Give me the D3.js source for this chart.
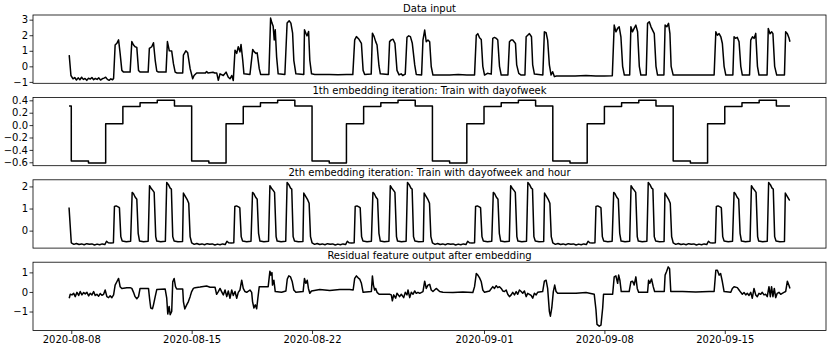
<!DOCTYPE html>
<html>
<head>
<meta charset="utf-8">
<script src="https://cdn.jsdelivr.net/npm/d3@7"></script>
<style>
  body { margin: 0; background: #fff; }
  svg text { font-family: "DejaVu Sans", sans-serif; fill: #000; }
</style>
</head>
<body>
<div id="chart"></div>
<script>
// time is counted in days from 2020-08-08 00:00
const seriesStart = -0.13, seriesEnd = 41.79;

const titles = [
  'Data input',
  '1th embedding iteration: Train with dayofweek',
  '2th embedding iteration: Train with dayofweek and hour',
  'Residual feature output after embedding'
];

const xTickLabels = ['2020-08-08', '2020-08-15', '2020-08-22', '2020-09-01', '2020-09-08', '2020-09-15'];

// panel 1: raw input, [day, value]
const inputPts = [
  [-0.12,0.72],[-0.02,-0.59],[0.10,-0.80],[0.2,-0.72],[0.3,-0.88],[0.4,-0.74],[0.5,-0.86],[0.6,-0.70],[0.7,-0.84],
  [0.8,-0.78],[0.9,-0.90],[1.0,-0.76],[1.1,-0.82],[1.2,-0.72],[1.3,-0.86],[1.4,-0.78],[1.5,-0.84],[1.6,-0.74],
  [1.7,-0.88],[1.8,-0.80],[1.9,-0.76],[2.0,-0.70],[2.1,-0.84],[2.2,-0.90],[2.3,-0.80],[2.4,-0.86],[2.46,-0.78],
  [2.55,1.37],[2.65,1.48],[2.75,1.70],[2.84,0.83],[2.94,-0.26],[3.04,-0.37],[3.42,-0.37],
  [3.52,1.59],[3.62,1.37],[3.71,1.26],[3.81,1.22],[3.91,-0.26],[4.0,-0.37],[4.47,-0.37],
  [4.54,1.15],[4.68,1.26],[4.78,1.52],[4.88,0.39],[4.97,-0.30],[5.07,-0.37],[5.51,-0.37],
  [5.59,1.59],[5.70,1.00],[5.84,0.98],[5.94,0.17],[6.04,-0.37],[6.15,-0.43],[6.48,-0.43],
  [6.52,0.72],[6.66,1.00],[6.77,0.87],[6.91,-0.15],[7.06,-0.80],[7.14,-0.59],[7.29,-0.43],[7.8,-0.43],[7.87,-0.33],
  [7.95,-0.43],[8.24,-0.38],[8.34,-0.43],[8.46,-0.43],[8.55,-0.90],[8.65,-0.48],[8.84,-0.59],[9.0,-0.37],[9.13,-0.70],
  [9.23,-0.80],[9.33,-0.59],[9.42,-0.91],
  [9.52,1.04],[9.62,0.83],[9.71,1.26],[9.81,0.93],[9.87,1.41],[9.97,0.39],[10.04,-0.48],[10.39,-0.52],
  [10.55,1.09],[10.64,0.93],[10.74,0.83],[10.81,0.87],[10.93,-0.15],[11.01,-0.52],[11.49,-0.52],
  [11.59,3.10],[11.67,2.78],[11.74,2.57],[11.80,1.70],[11.86,2.35],[11.94,0.61],[12.03,-0.48],[12.42,-0.52],
  [12.55,2.78],[12.67,2.93],[12.77,2.78],[12.87,2.13],[12.94,0.39],[13.06,-0.48],[13.52,-0.52],
  [13.56,2.35],[13.64,2.13],[13.71,1.96],[13.80,2.24],[13.87,0.39],[13.97,-0.48],[14.16,-0.52],[14.5,-0.53],
  [15.0,-0.52],[15.5,-0.54],[16.0,-0.52],[16.37,-0.53],
  [16.48,1.70],[16.58,1.91],[16.73,1.74],[16.87,1.48],[16.97,-0.26],[17.06,-0.52],[17.44,-0.50],
  [17.51,2.13],[17.61,1.91],[17.70,1.59],[17.78,1.37],[17.89,0.04],[17.97,-0.48],[18.43,-0.52],
  [18.51,1.59],[18.61,1.70],[18.71,1.74],[18.82,1.48],[18.94,-0.26],[19.06,-0.55],[19.18,-0.48],[19.27,-0.59],[19.42,-0.50],
  [19.52,1.87],[19.62,1.96],[19.72,1.91],[19.83,1.48],[19.97,0.09],[20.06,-0.52],[20.37,-0.55],
  [20.45,1.69],[20.55,2.33],[20.64,1.58],[20.74,1.69],[20.84,1.58],[20.93,-0.01],[21.03,-0.56],[21.5,-0.56],
  [22.0,-0.55],[22.5,-0.52],[23.0,-0.56],[23.45,-0.55],
  [23.55,2.0],[23.64,2.1],[23.74,1.84],[23.84,1.73],[23.93,0.0],[24.03,-0.56],[24.2,-0.45],[24.42,-0.5],
  [24.51,1.8],[24.61,1.86],[24.71,1.8],[24.80,1.69],[24.90,0.0],[25.0,-0.56],[25.39,-0.55],
  [25.48,1.58],[25.58,1.69],[25.67,1.69],[25.83,1.47],[25.90,0.09],[26.02,-0.45],[26.16,-0.56],[26.38,-0.55],
  [26.45,1.9],[26.54,2.0],[26.64,2.1],[26.76,1.9],[26.83,0.09],[26.93,-0.5],[27.42,-0.55],
  [27.51,2.22],[27.61,2.16],[27.70,1.69],[27.80,0.09],[27.90,-0.56],[27.99,-0.35],[28.09,-0.66],[28.21,-0.62],
  [28.7,-0.62],[29.3,-0.62],[29.93,-0.59],[30.5,-0.62],[31.0,-0.62],[31.46,-0.61],
  [31.57,2.65],[31.67,2.22],[31.77,2.44],[31.86,2.54],[31.96,1.9],[32.06,0.0],[32.16,-0.56],[32.47,-0.55],
  [32.54,2.54],[32.63,2.22],[32.73,2.44],[32.83,2.65],[32.93,2.22],[33.03,0.0],[33.12,-0.56],[33.43,-0.55],
  [33.51,2.76],[33.61,2.86],[33.71,2.54],[33.80,2.33],[33.90,2.1],[34.0,0.0],[34.09,-0.56],[34.46,-0.55],
  [34.53,2.65],[34.63,2.54],[34.73,2.76],[34.81,2.1],[34.88,0.0],[35.0,-0.56],[35.5,-0.56],[36.0,-0.55],
  [36.5,-0.56],[37.0,-0.55],[37.38,-0.56],
  [37.48,2.22],[37.57,2.0],[37.67,2.1],[37.77,1.9],[37.86,1.47],[37.96,0.0],[38.06,-0.56],[38.47,-0.55],
  [38.54,1.9],[38.63,1.8],[38.73,1.86],[38.83,1.58],[38.93,0.0],[39.02,-0.56],[39.44,-0.55],
  [39.51,1.69],[39.61,1.9],[39.71,1.8],[39.80,2.12],[39.90,0.0],[39.99,-0.56],[40.46,-0.55],
  [40.53,2.44],[40.63,2.1],[40.73,2.22],[40.80,2.1],[40.90,0.0],[41.02,-0.56],[41.47,-0.55],
  [41.54,2.22],[41.64,2.1],[41.74,1.8],[41.79,1.58]
];

// panel 2: one level per weekday, Saturday first
const dowLevels = [-0.58, -0.61, 0.02, 0.30, 0.36, 0.40, 0.31];

// panel 3: one week of the dayofweek+hour fit, Saturday 00:00 = day 0
const weekProfile = [
  [0.0,-0.55],[0.15,-0.62],[0.3,-0.58],[0.45,-0.63],[0.6,-0.60],[0.75,-0.64],[0.9,-0.59],[1.05,-0.62],[1.2,-0.60],
  [1.35,-0.65],[1.5,-0.61],[1.65,-0.64],[1.8,-0.60],[1.95,-0.63],[2.05,-0.48],[2.15,-0.55],[2.3,-0.56],[2.45,-0.55],
  [2.51,1.09],[2.61,1.12],[2.75,1.06],[2.80,1.03],[2.88,-0.27],[2.96,-0.47],[3.2,-0.50],[3.45,-0.48],
  [3.54,1.73],[3.62,1.67],[3.71,1.52],[3.81,1.42],[3.89,-0.12],[3.97,-0.47],[4.2,-0.50],[4.47,-0.48],
  [4.55,2.03],[4.64,1.92],[4.74,1.82],[4.82,1.73],[4.91,-0.27],[4.97,-0.47],[5.2,-0.50],[5.47,-0.48],
  [5.55,2.18],[5.65,2.08],[5.75,1.92],[5.82,1.88],[5.90,-0.27],[5.98,-0.47],[6.2,-0.50],[6.47,-0.49],
  [6.52,1.70],[6.63,1.55],[6.75,1.39],[6.83,1.24],[6.91,-0.27]
];
const embed2First = [-0.13, 1.05];
const embed2Last = [41.79, 1.40];

// panel 4: residual, [day, value]
const residualPts = [
  [-0.12,-0.32],[-0.06,-0.12],[0.04,-0.15],[0.14,-0.07],[0.23,-0.24],[0.33,-0.02],[0.43,-0.18],[0.52,0.02],[0.62,-0.15],
  [0.72,-0.03],[0.81,-0.10],[0.91,-0.02],[1.01,-0.20],[1.10,-0.07],[1.20,-0.15],[1.30,0.02],[1.39,-0.18],[1.49,-0.12],
  [1.59,-0.22],[1.68,-0.08],[1.78,-0.17],[1.88,-0.12],[1.97,0.10],[2.07,-0.24],[2.17,-0.29],[2.26,-0.20],[2.36,-0.29],
  [2.46,-0.15],[2.55,0.35],[2.65,0.52],[2.75,0.69],[2.84,0.27],[2.94,0.18],[3.23,0.22],[3.42,0.22],[3.52,0.18],
  [3.62,-0.02],[3.71,-0.24],[3.81,-0.35],[3.91,-0.24],[4.00,0.18],[4.49,0.18],[4.55,-0.32],[4.62,-0.82],[4.72,-0.86],
  [4.78,-0.66],[4.88,-0.24],[4.97,0.12],[5.46,0.15],[5.55,-0.32],[5.61,-1.13],[5.69,-0.74],[5.75,-1.16],[5.84,-0.99],
  [5.90,0.52],[5.98,0.69],[6.06,0.27],[6.13,0.15],[6.48,0.15],[6.52,-0.49],[6.60,-0.87],[6.71,-0.66],[6.81,-0.49],
  [6.91,-0.24],[7.00,0.02],[7.10,0.18],[7.20,0.22],[7.49,0.25],[7.87,0.30],[8.07,0.24],[8.36,0.24],[8.45,-0.12],
  [8.55,0.02],[8.65,0.18],[8.74,0.02],[8.84,-0.15],[8.94,0.10],[9.04,-0.24],[9.13,0.05],[9.23,-0.32],[9.33,0.10],
  [9.42,-0.18],[9.52,0.02],[9.62,-0.32],[9.71,-0.02],[9.81,0.10],[9.91,0.60],[10.00,0.18],[10.10,0.02],[10.20,-0.02],
  [10.39,0.10],[10.49,-0.02],[10.54,-0.49],[10.62,-0.82],[10.70,-0.66],[10.78,-0.86],[10.85,-0.32],[10.93,0.27],
  [11.45,0.27],[11.55,1.06],[11.61,0.86],[11.67,0.99],[11.70,0.35],[11.78,0.60],[11.86,0.02],[12.23,-0.02],[12.48,0.05],
  [12.56,0.66],[12.65,0.82],[12.75,0.77],[12.85,0.52],[12.94,0.10],[13.06,-0.02],[13.48,0.02],[13.56,0.69],[13.64,0.44],
  [13.72,0.60],[13.79,0.18],[13.87,-0.07],[13.97,0.05],[14.45,0.13],[15.03,0.08],[15.61,0.12],[16.19,0.13],[16.39,0.10],
  [16.48,0.69],[16.58,0.82],[16.68,0.72],[16.77,0.66],[16.87,0.44],[16.97,-0.02],[17.45,0.02],[17.51,0.82],[17.57,0.35],
  [17.64,0.10],[17.70,0.18],[17.78,-0.02],[17.90,-0.12],[18.13,-0.12],[18.51,-0.12],[18.61,-0.15],[18.67,-0.45],
  [18.75,-0.15],[18.86,-0.32],[18.94,-0.07],[19.09,-0.24],[19.19,-0.12],[19.33,-0.29],[19.42,-0.02],[19.52,-0.15],
  [19.58,0.10],[19.68,-0.29],[19.77,-0.02],[19.87,-0.12],[19.97,0.05],[20.06,-0.07],[20.16,-0.02],[20.26,-0.07],
  [20.45,0.02],[20.55,0.55],[20.64,0.18],[20.74,0.35],[20.84,0.39],[20.93,0.10],[21.03,0.02],[21.22,0.18],[21.42,0.02],
  [21.61,-0.02],[22.19,-0.03],[22.77,0.0],[23.35,-0.03],[23.45,0.27],[23.55,0.94],[23.64,0.86],[23.74,0.72],[23.84,0.52],
  [23.93,0.10],[24.03,-0.02],[24.32,0.05],[24.51,0.27],[24.61,0.18],[24.71,0.32],[24.80,0.22],[24.90,0.27],[25.00,0.18],
  [25.09,0.05],[25.19,0.02],[25.29,0.10],[25.38,-0.12],[25.48,-0.24],[25.58,-0.15],[25.67,-0.02],[25.77,-0.15],
  [25.87,0.02],[25.96,-0.12],[26.06,0.10],[26.16,0.02],[26.25,-0.07],[26.35,0.05],[26.45,-0.24],[26.54,-0.07],
  [26.64,-0.12],[26.74,-0.18],[26.83,-0.32],[26.93,-0.07],[27.03,-0.15],[27.12,-0.02],[27.41,0.02],[27.51,0.55],
  [27.61,0.60],[27.70,0.18],[27.80,-0.99],[27.86,-1.24],[27.94,-0.82],[28.03,0.02],[28.11,0.35],[28.19,0.02],
  [28.28,-0.07],[29.35,-0.07],[29.93,-0.03],[30.41,-0.12],[30.51,-0.91],[30.57,-1.66],[30.70,-1.75],[30.80,-1.70],
  [30.90,-0.82],[30.95,-0.12],[31.48,-0.12],[31.57,0.77],[31.67,0.82],[31.77,0.44],[31.83,0.86],[31.90,0.60],
  [31.98,0.02],[32.44,0.02],[32.54,0.52],[32.64,0.55],[32.73,0.35],[32.83,0.77],[32.91,0.18],[32.99,-0.02],
  [33.51,-0.02],[33.57,0.60],[33.64,0.44],[33.74,0.66],[33.84,0.27],[33.92,0.02],[34.48,0.02],[34.53,0.86],
  [34.61,1.03],[34.71,1.28],[34.79,1.19],[34.86,0.02],[35.54,0.02],[36.31,0.0],[37.09,0.02],[37.38,0.02],
  [37.48,1.11],[37.57,1.11],[37.67,0.86],[37.76,0.94],[37.86,0.52],[37.96,0.02],[38.35,-0.02],[38.44,0.18],
  [38.54,0.27],[38.73,0.22],[38.83,0.10],[38.93,-0.02],[39.02,-0.12],[39.12,-0.03],[39.22,-0.15],[39.31,-0.07],
  [39.41,-0.18],[39.51,-0.02],[39.60,-0.32],[39.70,0.18],[39.80,-0.15],[39.89,-0.24],[39.99,-0.07],[40.09,-0.12],
  [40.18,-0.02],[40.28,-0.15],[40.38,-0.12],[40.47,-0.24],[40.57,0.27],[40.65,-0.24],[40.72,0.27],[40.80,-0.24],
  [40.88,0.18],[40.96,-0.29],[41.05,-0.07],[41.15,-0.02],[41.25,-0.12],[41.34,-0.07],[41.44,-0.02],[41.54,0.02],
  [41.64,0.55],[41.74,0.32],[41.79,0.18]
];

// build the two fitted series from the weekday / weekly tables
const embed1Pts = [];
for (let k = -1; k <= Math.floor(seriesEnd); k++) {
  embed1Pts.push([Math.max(k, seriesStart), dowLevels[((k % 7) + 7) % 7]]);
}
embed1Pts.push([seriesEnd, dowLevels[((Math.floor(seriesEnd) % 7) + 7) % 7]]);

const embed2Pts = [embed2First];
for (let w = 0; w < 6; w++) {
  weekProfile.forEach(p => {
    const d = 7 * w + p[0];
    if (d < seriesEnd) embed2Pts.push([d, p[1]]);
  });
}
embed2Pts.push(embed2Last);

const panels = [
  { title: titles[0], data: inputPts, domain: [-1.09, 3.30], ticks: [-1, 0, 1, 2, 3], fmt: d3.format('d'), curve: d3.curveLinear },
  { title: titles[1], data: embed1Pts, domain: [-0.655, 0.447], ticks: [-0.6, -0.4, -0.2, 0, 0.2, 0.4], fmt: d3.format('.1f'), curve: d3.curveStepAfter },
  { title: titles[2], data: embed2Pts, domain: [-0.79, 2.30], ticks: [0, 1, 2], fmt: d3.format('d'), curve: d3.curveLinear },
  { title: titles[3], data: residualPts, domain: [-1.97, 1.52], ticks: [-1, 0, 1], fmt: d3.format('d'), curve: d3.curveLinear }
];

const dim = { width: 831, height: 349, left: 33, right: 826, top: 15, step: 82.4, panelH: 68.3 };

const t0 = Date.UTC(2020, 7, 8);
const toDate = d => new Date(t0 + d * 864e5);
const span = seriesEnd - seriesStart;

const x = d3.scaleUtc()
  .domain([toDate(seriesStart - span * 0.05), toDate(seriesEnd + span * 0.05)])
  .range([dim.left, dim.right]);

const svg = d3.select('#chart')
  .append('svg')
    .attr('width', dim.width)
    .attr('height', dim.height);

const parseDay = d3.utcParse('%Y-%m-%d');

panels.forEach((p, i) => {
  const top = dim.top + i * dim.step;
  const bottom = top + dim.panelH;
  const y = d3.scaleLinear().domain(p.domain).range([bottom, top]);

  const g = svg.append('g').attr('class', `panel-${i}`);

  g.append('path')
    .datum(p.data)
    .attr('fill', 'none')
    .attr('stroke', '#000')
    .attr('stroke-width', 1.5)
    .attr('stroke-linejoin', 'round')
    .attr('d', d3.line()
      .x(d => x(toDate(d[0])))
      .y(d => y(d[1]))
      .curve(p.curve));

  const yAxis = g.append('g')
    .attr('transform', `translate(${dim.left}, 0)`)
    .call(d3.axisLeft(y).tickValues(p.ticks).tickFormat(p.fmt).tickSize(3.5).tickPadding(1.5));
  yAxis.select('.domain').remove();
  yAxis.selectAll('line').attr('stroke', '#000').attr('stroke-width', 0.8);
  yAxis.selectAll('text').attr('font-size', '10px').attr('font-family', '"DejaVu Sans", sans-serif');

  if (i === panels.length - 1) {
    const xAxis = g.append('g')
      .attr('transform', `translate(0, ${bottom})`)
      .call(d3.axisBottom(x)
        .tickValues(xTickLabels.map(parseDay))
        .tickFormat(d3.utcFormat('%Y-%m-%d'))
        .tickSize(3.5).tickPadding(1.5));
    xAxis.select('.domain').remove();
    xAxis.selectAll('line').attr('stroke', '#000').attr('stroke-width', 0.8);
    xAxis.selectAll('text').attr('font-size', '10px').attr('font-family', '"DejaVu Sans", sans-serif');
  }

  g.append('rect')
    .attr('x', dim.left)
    .attr('y', top)
    .attr('width', dim.right - dim.left)
    .attr('height', dim.panelH)
    .attr('fill', 'none')
    .attr('stroke', '#000')
    .attr('stroke-width', 0.8);

  g.append('text')
    .attr('x', (dim.left + dim.right) / 2)
    .attr('y', top - 3.5)
    .attr('text-anchor', 'middle')
    .attr('font-size', '10px')
    .text(p.title);
});
</script>
</body>
</html>
